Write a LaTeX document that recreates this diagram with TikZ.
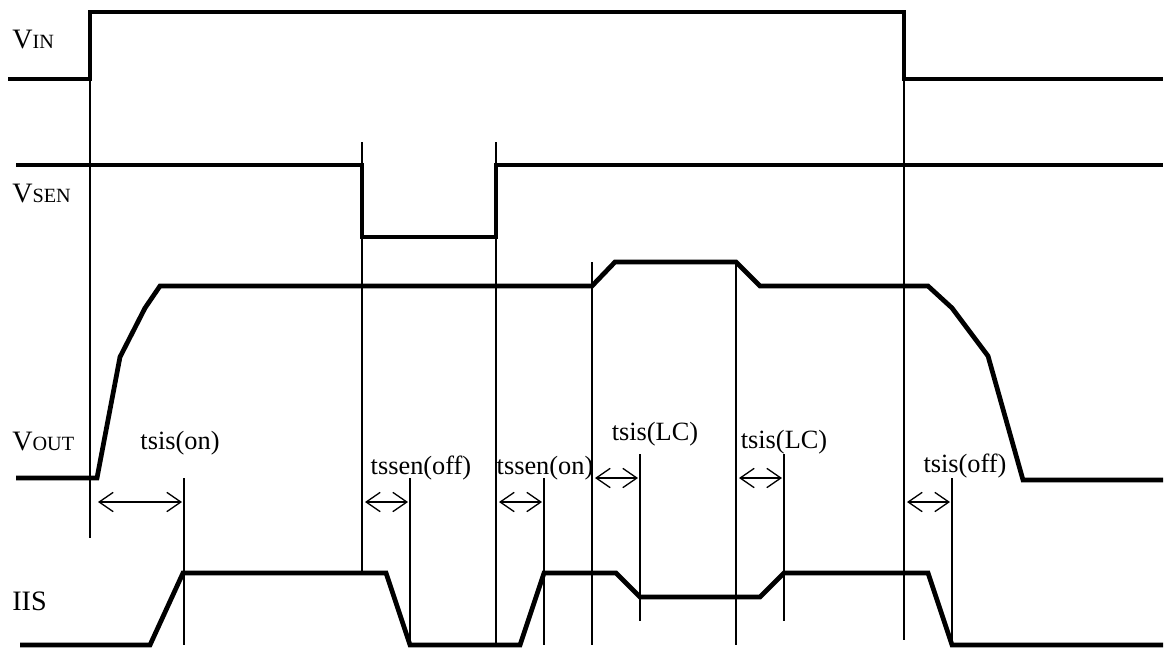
\documentclass[tikz,border=0pt]{standalone}
\usepackage{fontspec}
\setmainfont{Liberation Serif}
\usetikzlibrary{arrows.meta}
\tikzset{
  wave/.style={line width=2.7pt,line join=miter},
  guide/.style={line width=0.75pt},
  span/.style={{Straight Barb[length=8pt,width=11pt]}-{Straight Barb[length=8pt,width=11pt]},
    line width=0.75pt},
  sig-label/.style={anchor=base west,inner sep=0pt,font=\fontsize{16}{18}\selectfont},
  time-label/.style={anchor=base,inner sep=0pt,font=\fontsize{15}{17}\selectfont},
}
\newcommand{\sigsub}[1]{{\fontsize{11.5}{13}\selectfont #1}}

\begin{document}
\begin{tikzpicture}[x=0.02cm,y=-0.02cm]
  \useasboundingbox (0,0) rectangle (1166,650);
  % signal names
  \node[sig-label] (vin)  at (12,48)  {V\sigsub{IN}};
  \node[sig-label] (vsen) at (12,202) {V\sigsub{SEN}};
  \node[sig-label] (vout) at (12,450) {V\sigsub{OUT}};
  \node[sig-label] (iis)  at (12,610) {IIS};
  % waveforms
  \draw[wave] (8,79) -- (90,79) -- (90,12) -- (904,12) -- (904,79) -- (1163,79);
  \draw[wave] (16,165) -- (362,165) -- (362,237) -- (496,237) -- (496,165) -- (1163,165);
  \draw[wave] (16,478) -- (97,478) -- (120,357) -- (145,308) -- (160,286) -- (592,286)
    -- (615,262) -- (736,262) -- (760,286) -- (928,286) -- (952,308) -- (988,356)
    -- (1023,480) -- (1163,480);
  \draw[wave] (20,645) -- (150,645) -- (183,573) -- (386,573) -- (410,645) -- (520,645)
    -- (544,573) -- (616,573) -- (640,597) -- (760,597) -- (784,573) -- (928,573)
    -- (952,645) -- (1163,645);
  % event guides
  \draw[guide] (90,12) -- (90,538);
  \draw[guide] (362,142) -- (362,573);
  \draw[guide] (496,142) -- (496,645);
  \draw[guide] (592,262) -- (592,645);
  \draw[guide] (736,262) -- (736,645);
  \draw[guide] (904,12) -- (904,640);
  % delay ends
  \foreach \x/\y/\z in {184/478/645,410/478/645,544/478/645,640/454/621,784/454/621,952/478/645}
    \draw[guide] (\x,\y) -- (\x,\z);
  % delays
  \draw[span] (98,502) -- (182,502);
  \draw[span] (365,502) -- (408,502);
  \draw[span] (499,502) -- (542,502);
  \draw[span] (595,478) -- (638,478);
  \draw[span] (739,478) -- (782,478);
  \draw[span] (907,502) -- (950,502);
  \node[time-label] (ton)    at (180,449) {tsis(on)};
  \node[time-label] (tsoff)  at (421,474) {tssen(off)};
  \node[time-label] (tson)   at (545,474) {tssen(on)};
  \node[time-label] (tlc-a)  at (655,440) {tsis(LC)};
  \node[time-label] (tlc-b)  at (784,448) {tsis(LC)};
  \node[time-label] (toff)   at (965,472) {tsis(off)};
\end{tikzpicture}
\end{document}
